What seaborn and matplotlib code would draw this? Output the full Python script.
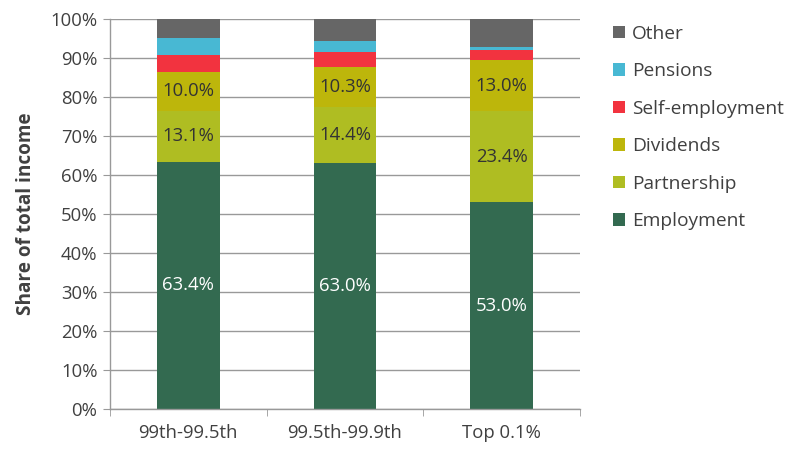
import matplotlib
matplotlib.use("Agg")
import matplotlib.pyplot as plt
import seaborn as sns
import numpy as np
from matplotlib.patches import Patch
from matplotlib.ticker import FixedLocator, PercentFormatter

categories = ["99th-99.5th", "99.5th-99.9th", "Top 0.1%"]
employment = [63.4, 63.0, 53.0]
partnership = [13.1, 14.4, 23.4]
dividends = [10.0, 10.3, 13.0]
self_employment = [4.3, 3.8, 2.6]
pensions = [4.3, 2.9, 0.8]
other = [4.9, 5.6, 7.2]

series_names = ["Employment", "Partnership", "Dividends", "Self-employment", "Pensions", "Other"]
series_values = [employment, partnership, dividends, self_employment, pensions, other]
series_colors = ["#336A50", "#AFBD22", "#BDB60B", "#F2333F", "#48B8D3", "#666666"]
labelled = {"Employment": "white", "Partnership": "#333333", "Dividends": "#333333"}

sns.set_style("white")
plt.rcParams["font.family"] = ["Open Sans", "DejaVu Sans"]
text_color = "#404040"

fig = plt.figure(figsize=(7.98, 4.69), dpi=100)
ax = fig.add_axes([110/798, 60/469, 470/798, 390/469])

bottom = np.zeros(len(categories))
for name, vals, col in zip(series_names, series_values, series_colors):
    sns.barplot(x=categories, y=vals, bottom=bottom, color=col, saturation=1,
                width=0.4, ax=ax, linewidth=0, errorbar=None)
    cont = ax.containers[-1]
    if name in labelled:
        ax.bar_label(cont, labels=[f"{v:.1f}%" for v in vals], label_type="center",
                     color=labelled[name], fontsize=13.3)
    bottom = bottom + np.array(vals)

ax.set_ylim(0, 100)
ax.set_xlim(-0.5, 2.5)
ax.set_yticks(np.arange(0, 101, 10))
ax.yaxis.set_major_formatter(PercentFormatter(decimals=0))
ax.grid(axis="y", color="#999999", linewidth=1)
ax.set_axisbelow(True)
for s in ["top", "right"]:
    ax.spines[s].set_visible(False)
for s in ["left", "bottom"]:
    ax.spines[s].set_color("#999999")
    ax.spines[s].set_linewidth(1)

ax.tick_params(axis="y", which="major", length=5, color="#999999", direction="out",
               labelsize=13.3, labelcolor=text_color, pad=4, left=True)
ax.xaxis.set_minor_locator(FixedLocator([-0.5, 0.5, 1.5, 2.5]))
ax.tick_params(axis="x", which="minor", length=5, color="#999999", direction="out", bottom=True)
ax.tick_params(axis="x", which="major", length=0, labelsize=13.3, labelcolor=text_color, pad=11)
ax.set_xlabel("")
ax.set_ylabel("Share of total income", fontsize=13.7, fontweight="bold", color=text_color, labelpad=10)

handles = [Patch(facecolor=c, edgecolor="none") for c in series_colors][::-1]
fig.legend(handles, series_names[::-1], loc="upper left", bbox_to_anchor=(605/798, 1 - 17/469),
           frameon=False, fontsize=13.8, labelcolor=text_color, handlelength=0.62, handleheight=0.62,
           handletextpad=0.4, labelspacing=1.02, borderaxespad=0)

fig.savefig("out.png", dpi=100)
